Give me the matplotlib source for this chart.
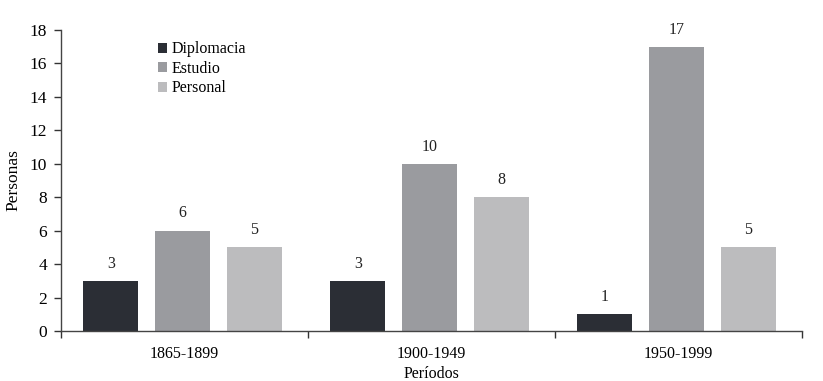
import numpy as np
import matplotlib.pyplot as plt
from matplotlib.patches import Patch

plt.rcParams['font.family'] = ['Liberation Serif', 'DejaVu Serif']

periods = ["1865-1899", "1900-1949", "1950-1999"]
series = ["Diplomacia", "Estudio", "Personal"]
diplomacia = [3, 3, 1]
estudio = [6, 10, 17]
personal = [5, 8, 5]
colors = ["#2b2e35", "#9a9b9f", "#bcbcbe"]

fig = plt.figure(figsize=(8.23, 3.81), dpi=100)
ax = fig.add_axes([61 / 823, 50 / 381, 741 / 823, 301 / 381])

x = np.arange(len(periods))
offsets = [-0.298, -0.008, 0.282]
width = 0.223
for vals, off, col, name in zip([diplomacia, estudio, personal], offsets, colors, series):
    bars = ax.bar(x + off, vals, width, color=col, label=name)
    for b, v in zip(bars, vals):
        ax.text(b.get_x() + b.get_width() / 2, v + 0.55, str(v),
                ha="center", va="bottom", fontsize=11.5, color="#222222")

ax.set_xlim(-0.5, 2.5)
ax.set_ylim(0, 18)
ax.set_yticks(range(0, 19, 2))
ax.set_xticks(x)
ax.set_xticklabels(periods)
ax.set_xticks([-0.5, 0.5, 1.5, 2.5], minor=True)
ax.tick_params(axis="x", which="major", length=0, pad=11, labelsize=11.5)
ax.tick_params(axis="x", which="minor", length=5, width=1, color="#333333")
ax.tick_params(axis="y", length=5, width=1, color="#333333", labelsize=12.5, pad=5)

for s in ["top", "right"]:
    ax.spines[s].set_visible(False)
for s in ["left", "bottom"]:
    ax.spines[s].set_color("#444444")
    ax.spines[s].set_linewidth(1)

ax.set_ylabel("Personas", fontsize=12.5, labelpad=6)
ax.set_xlabel("Períodos", fontsize=11.5, labelpad=2.5)

handles = [Patch(facecolor=c, label=n) for c, n in zip(colors, series)]
ax.legend(handles=handles, loc="upper left", bbox_to_anchor=(0.111, 1.01),
          frameon=False, fontsize=11.5, handlelength=0.6, handleheight=0.6,
          handletextpad=0.3, labelspacing=0.22)

fig.savefig("out.png", dpi=100)
